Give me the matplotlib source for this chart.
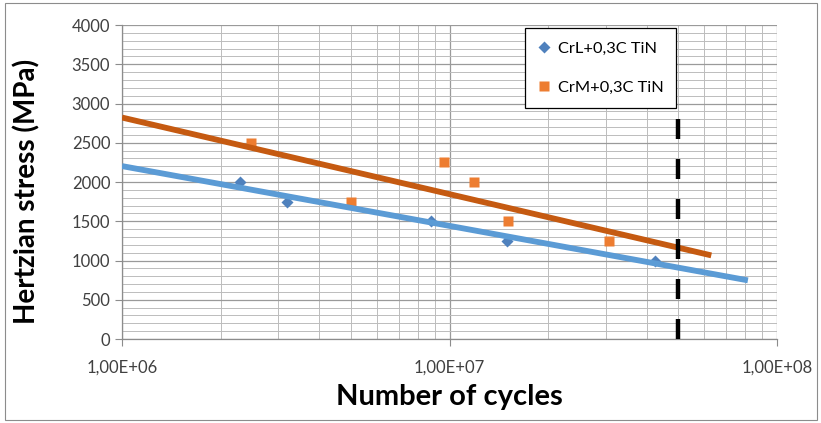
import numpy as np
import matplotlib
matplotlib.use('Agg')
import matplotlib.pyplot as plt
from matplotlib.ticker import FixedLocator, LogLocator, NullFormatter, FuncFormatter
from matplotlib.patches import Rectangle

plt.rcParams['font.family'] = ['Lato', 'DejaVu Sans']

# CrL+0,3C TiN
crl_cycles = [2.29e6, 3.2e6, 8.8e6, 1.5e7, 4.24e7]
crl_stress = [2000, 1750, 1500, 1250, 1000]
# CrM+0,3C TiN
crm_cycles = [2.48e6, 5.0e6, 9.6e6, 1.19e7, 1.51e7, 3.07e7]
crm_stress = [2500, 1750, 2250, 2000, 1500, 1250]

# trendline ranges (excel log trendline with forward forecast)
crl_trend_range = [1e6, 8.15e7]
crm_trend_range = [1e6, 6.3e7]

limit_cycles = 5e7
limit_stress = [0, 3050]

labels = ['CrL+0,3C TiN', 'CrM+0,3C TiN']

fig = plt.figure(figsize=(8.21, 4.23), dpi=100)
ax = fig.add_axes([122/821, 1-339/423, 655/821, 314/423])

blue_line = '#5B9BD5'
blue_mark = '#4F81BD'
orange_line = '#C55A11'
orange_mark = '#ED7D31'

# trendlines: y = a*log10(N) + b
for cyc, st, rng, col in [(crl_cycles, crl_stress, crl_trend_range, blue_line),
                          (crm_cycles, crm_stress, crm_trend_range, orange_line)]:
    a, b = np.polyfit(np.log10(cyc), st, 1)
    xx = np.array(rng)
    ax.plot(xx, a*np.log10(xx) + b, color=col, lw=4.2, solid_capstyle='butt', zorder=3)

ax.plot(crl_cycles, crl_stress, 'D', color=blue_mark, ms=6, mec='none', zorder=2.5, label=labels[0])
ax.plot(crm_cycles, crm_stress, 's', color=orange_mark, ms=6.5, mec='none', zorder=2.5, label=labels[1])

ax.plot([limit_cycles, limit_cycles], limit_stress, color='black', lw=3.2,
        dashes=(4.5, 4.5), zorder=5)

ax.set_xscale('log')
ax.set_xlim(1e6, 1e8)
ax.set_ylim(0, 4000)
ax.yaxis.set_major_locator(FixedLocator(np.arange(0, 4001, 500)))
ax.yaxis.set_minor_locator(FixedLocator(np.arange(0, 4001, 100)))
ax.xaxis.set_major_locator(FixedLocator([1e6, 1e7, 1e8]))
ax.xaxis.set_minor_locator(LogLocator(base=10, subs=np.arange(2, 10)))
ax.xaxis.set_minor_formatter(NullFormatter())
ax.xaxis.set_major_formatter(FuncFormatter(lambda v, p: ('%.2E' % v).replace('.', ',')))

ax.grid(which='major', color='#9a9a9a', lw=0.9)
ax.grid(which='minor', color='#bcbcbc', lw=0.7)
ax.set_axisbelow(True)
for s in ['top', 'right']:
    ax.spines[s].set_visible(False)
for s in ['left', 'bottom']:
    ax.spines[s].set_color('#8c8c8c')
    ax.spines[s].set_linewidth(0.9)
ax.tick_params(which='major', length=5, color='#8c8c8c', labelsize=12, labelcolor='#404040')
ax.tick_params(axis='x', which='major', pad=10)
ax.tick_params(which='minor', length=0)

ax.set_xlabel('Number of cycles', fontsize=21, fontweight='bold', labelpad=6)
ax.set_ylabel('Hertzian stress (MPa)', fontsize=20, fontweight='bold', labelpad=8)
ax.yaxis.set_label_coords(-0.125, 0.47)

leg = ax.legend(loc='upper left', bbox_to_anchor=(0.615, 0.99), fontsize=11.8,
                frameon=True, fancybox=False, edgecolor='black', framealpha=1,
                labelspacing=1.5, handlelength=0.8, handletextpad=0.4,
                borderpad=0.8, borderaxespad=0, markerscale=1.1)
leg.get_frame().set_linewidth(0.9)
leg.set_zorder(10)

fig.patches.append(Rectangle((5/821, 3/423), 812/821, 417/423, transform=fig.transFigure,
                             fill=False, edgecolor='#8c8c8c', lw=0.8))

fig.savefig('out.png', dpi=100)
